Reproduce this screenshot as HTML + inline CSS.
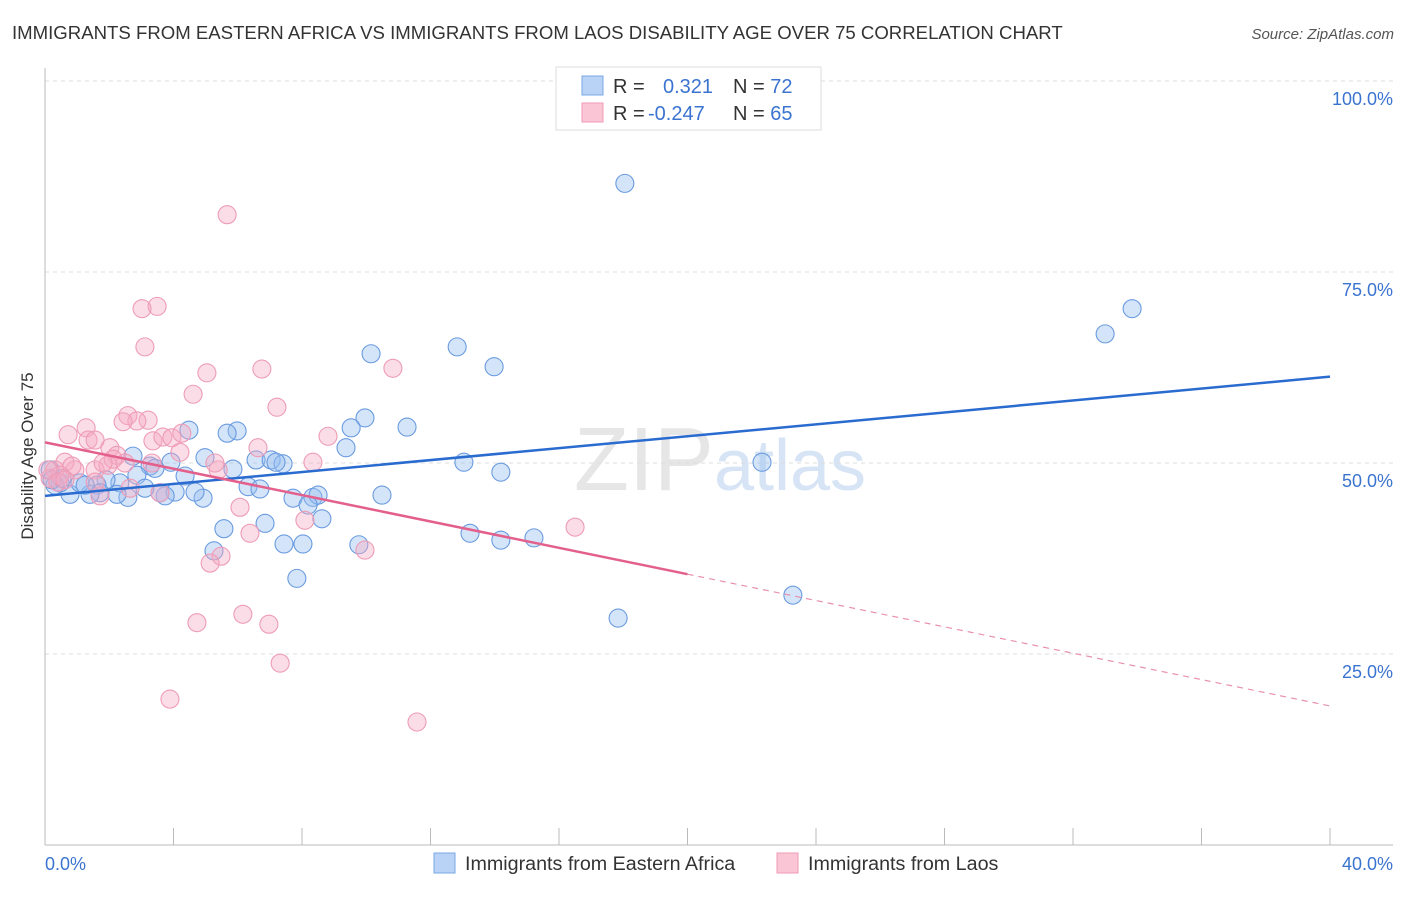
<!DOCTYPE html>
<html><head><meta charset="utf-8"><style>
body{margin:0;background:#fff;font-family:"Liberation Sans",sans-serif;}
svg text{font-family:"Liberation Sans",sans-serif;}
</style></head><body>
<svg id="chart" width="1406" height="892" xmlns="http://www.w3.org/2000/svg">
<text x="12" y="39" font-size="18.6" fill="#333">IMMIGRANTS FROM EASTERN AFRICA VS IMMIGRANTS FROM LAOS DISABILITY AGE OVER 75 CORRELATION CHART</text>
<text x="1394" y="39" font-size="15" fill="#555" text-anchor="end" font-style="italic">Source: ZipAtlas.com</text>
<text x="720" y="490" font-size="90" fill="#e6e6e6" text-anchor="middle" font-family="Liberation Serif">ZIP<tspan fill="#d6e4f5" font-family="Liberation Sans" font-size="72">atlas</tspan></text>
<g id="grid"></g><g id="axes"></g><g id="pts"></g><g id="trend"></g>
<text transform="translate(33,456) rotate(-90)" font-size="17" fill="#333" text-anchor="middle">Disability Age Over 75</text>
<g>
<rect x="556" y="67" width="265" height="63" fill="#fff" stroke="#ddd"/>
<rect x="582" y="76" width="21" height="19" fill="#b8d3f5" stroke="#7aa7e6"/>
<rect x="582" y="103" width="21" height="19" fill="#fac6d6" stroke="#f09ab5"/>
<text x="613" y="93" font-size="20" fill="#333">R = <tspan fill="#3b74d0" x="663">0.321</tspan><tspan fill="#333" x="733">N = </tspan><tspan fill="#3b74d0">72</tspan></text>
<text x="613" y="120" font-size="20" fill="#333">R = <tspan fill="#3b74d0" x="648">-0.247</tspan><tspan fill="#333" x="733">N = </tspan><tspan fill="#3b74d0">65</tspan></text>
</g>
<g>
<rect x="434" y="853" width="21" height="20" fill="#b8d3f5" stroke="#7aa7e6"/>
<text x="465" y="870" font-size="19.7" fill="#333">Immigrants from Eastern Africa</text>
<rect x="777" y="853" width="21" height="20" fill="#fac6d6" stroke="#f09ab5"/>
<text x="808" y="870" font-size="19.7" fill="#333">Immigrants from Laos</text>
</g>
</svg>
<script>
const yTicks=[25,50,75,100];
const yTickLabels=["25.0%","50.0%","75.0%","100.0%"];
const blueX=[18.05,33.84,33.0,22.32,10.15,12.83,13.98,11.27,9.96,9.53,9.37,13.04,14.19,10.49,8.62,7.72,8.34,8.50,8.19,13.23,14.19,15.22,17.84,23.28,7.84,7.44,8.03,9.77,6.85,5.57,5.26,5.98,5.67,4.48,6.57,7.04,7.41,7.19,5.85,6.32,6.69,4.98,4.36,3.92,3.27,3.42,2.74,2.86,2.33,1.90,1.62,4.92,4.67,4.05,3.74,3.58,3.11,2.58,2.24,1.71,1.40,0.78,1.09,0.47,0.31,0.16,0.22,0.53,1.25];
const blueY=[86.6,70.2,66.9,50.1,64.3,65.2,62.6,54.7,55.9,54.6,52.0,50.1,48.8,45.8,42.7,45.4,45.5,45.8,44.5,40.8,39.9,40.2,29.7,32.7,34.9,39.4,39.4,39.3,42.1,41.4,38.5,54.2,53.9,54.3,50.4,50.4,49.9,50.1,49.2,46.9,46.6,50.7,48.3,50.1,49.6,49.3,50.9,48.4,47.4,47.8,47.1,45.4,46.2,46.2,45.7,46.1,46.7,45.5,45.9,46.1,45.9,45.9,47.4,47.4,47.1,49.1,47.8,48.0,47.1];
const pinkX=[5.67,3.49,3.02,3.11,5.04,6.75,4.61,10.83,7.22,2.58,3.21,2.86,2.43,1.28,0.72,1.34,1.56,3.36,3.67,3.95,4.26,2.02,6.63,8.81,8.34,2.24,1.56,0.93,0.62,0.84,1.96,5.39,5.29,2.49,2.12,1.81,0.31,0.16,0.47,4.20,6.07,6.38,5.48,5.14,8.09,16.50,9.96,6.16,6.97,4.73,7.32,3.89,11.58,2.65,1.71,3.58,0.09,0.40,0.62,3.33,1.56];
const pinkY=[82.5,70.5,70.2,65.2,61.8,62.3,59.0,62.4,57.3,56.2,55.6,55.5,55.4,54.6,53.7,53.0,53.0,52.9,53.4,53.3,53.9,52.0,52.0,53.5,50.1,51.0,49.1,49.1,50.1,49.6,49.7,49.1,50.0,50.0,50.5,50.0,49.1,48.0,48.4,51.4,44.2,40.8,37.8,36.9,42.5,41.6,38.6,30.2,28.9,29.1,23.8,19.1,16.1,46.7,45.7,46.1,49.1,47.5,47.8,50.0,47.5];
const blueTrend=[45.7,61.3];
const pinkTrend=[52.7,18.2];
const pinkSolidEnd=20;
const X=v=>45+v*32.125, Y=v=>845-v*7.64;
const NS="http://www.w3.org/2000/svg";
function mk(p,t,a){const e=document.createElementNS(NS,t);for(const k in a)e.setAttribute(k,a[k]);p.appendChild(e);return e;}
const grid=document.getElementById('grid'),axes=document.getElementById('axes'),pts=document.getElementById('pts'),tr=document.getElementById('trend');
yTicks.forEach((t,i)=>{const l=mk(grid,'line',{x1:45,x2:1393,y1:Y(t),y2:Y(t),stroke:'#ddd','stroke-dasharray':'4,4'});


const tx=mk(grid,'text',{x:1393,y:Y(t)+24,'font-size':18,fill:'#3b74d0','text-anchor':'end'});tx.textContent=yTickLabels[i];

});
mk(axes,'line',{x1:45,x2:45,y1:68,y2:845,stroke:'#bbb'});
mk(axes,'line',{x1:45,x2:1393,y1:845,y2:845,stroke:'#bbb'});
for(let i=0;i<=10;i++){const t=mk(axes,'line',{x1:X(i*4),x2:X(i*4),y1:828,y2:845,stroke:'#bbb'});

}
const x0=mk(axes,'text',{x:45,y:870,'font-size':18,fill:'#3b74d0'});x0.textContent='0.0%';
const x1=mk(axes,'text',{x:1393,y:870,'font-size':18,fill:'#3b74d0','text-anchor':'end'});x1.textContent='40.0%';
blueX.forEach((v,i)=>{const c=mk(pts,'circle',{cx:X(v),cy:Y(blueY[i]),r:9,fill:'rgba(150,190,240,0.4)',stroke:'#6a9be0','stroke-width':1.1});

});
pinkX.forEach((v,i)=>{const c=mk(pts,'circle',{cx:X(v),cy:Y(pinkY[i]),r:9,fill:'rgba(245,170,195,0.4)',stroke:'#ee9cb6','stroke-width':1.1});

});
const bl=mk(tr,'line',{x1:X(0),y1:Y(blueTrend[0]),x2:X(40),y2:Y(blueTrend[1]),stroke:'#2a6bd0','stroke-width':2.5});


const pm=pinkTrend[0]+(pinkTrend[1]-pinkTrend[0])*pinkSolidEnd/40;
const pl=mk(tr,'line',{x1:X(0),y1:Y(pinkTrend[0]),x2:X(pinkSolidEnd),y2:Y(pm),stroke:'#e3608c','stroke-width':2.5});


const pd=mk(tr,'line',{x1:X(pinkSolidEnd),y1:Y(pm),x2:X(40),y2:Y(pinkTrend[1]),stroke:'#e891ad','stroke-width':1.2,'stroke-dasharray':'6,5'});


</script>
</body></html>
